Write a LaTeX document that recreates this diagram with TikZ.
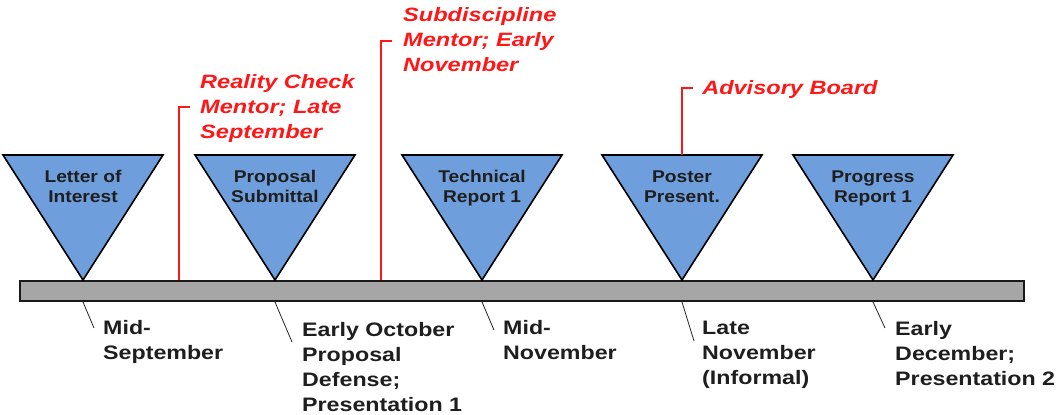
\documentclass[tikz,border=0pt]{standalone}
\usepackage{fontspec}
\setmainfont{Liberation Sans}
\definecolor{triblue}{RGB}{110,158,219}
\definecolor{bargray}{RGB}{166,166,166}
\definecolor{mred}{RGB}{255,22,22}
\definecolor{dtext}{RGB}{30,30,30}
\begin{document}
\begin{tikzpicture}[x=1pt,y=-1pt,
  tri/.style={draw=black,line width=1.6pt,fill=triblue,line join=miter},
  tritext/.style={inner sep=0,align=center,anchor=base,xscale=1.13,transform shape,
    font=\fontsize{17}{20}\selectfont\bfseries,text=dtext},
  datetext/.style={inner sep=0,align=left,anchor=base west,xscale=1.19,transform shape,
    font=\fontsize{19.5}{25}\selectfont\bfseries,text=dtext},
  redtext/.style={inner sep=0,align=left,anchor=base west,xscale=1.22,transform shape,
    font=\fontsize{19.3}{25}\selectfont\bfseries\itshape,text=mred},
  redline/.style={draw=mred,line width=1.6pt},
  leader/.style={draw=black!85,line width=0.8pt}]
\useasboundingbox (0,0) rectangle (1058,415);
% bar
\node[draw=black!90,line width=2pt,fill=bargray,minimum width=1004pt,minimum height=20pt,inner sep=0,anchor=north west] (bar) at (19,280) {};
% red connectors behind triangles
\coordinate (r1top) at (179,107);
\coordinate (r1end) at (190,107);
\coordinate (r2top) at (381,41);
\coordinate (r2end) at (392,41);
\coordinate (r3top) at (682,88);
\coordinate (r3end) at (693,88);
\draw[redline] (bar.north -| r1top) -- (r1top) -- (r1end);
\draw[redline] (bar.north -| r2top) -- (r2top) -- (r2end);
% triangles
\foreach \cx/\nm in {83/a,275/b,482/c,682/d,873/e}{
  \draw[tri] (\cx-80,155) -- (\cx+80,155) -- (\cx,280) -- cycle;
  \coordinate (apex\nm) at (\cx,280);
  \coordinate (top\nm) at (\cx,155);
}
\draw[redline] (topd) -- (r3top) -- (r3end);
% triangle labels (base anchor = last line baseline)
\node[tritext] (ta) at (83,202) {Letter of\\Interest};
\node[tritext] (tb) at (275,202) {Proposal\\Submittal};
\node[tritext] (tc) at (482,202) {Technical\\Report 1};
\node[tritext] (td) at (682,202) {Poster\\Present.};
\node[tritext] (te) at (873,202) {Progress\\Report 1};
% red labels
\node[redtext] (rl1) at (200,138) {Reality Check\\Mentor; Late\\September};
\node[redtext] (rl2) at (403,71) {Subdiscipline\\Mentor; Early\\November};
\node[redtext] (rl3) at (702,94) {Advisory Board};
% date labels with leaders
\coordinate (la) at (94,328);
\coordinate (lb) at (292,342);
\coordinate (lc) at (494,330);
\coordinate (ld) at (694,341);
\coordinate (le) at (885,328);
\draw[leader] (bar.south -| apexa) -- (la);
\draw[leader] (bar.south -| apexb) -- (lb);
\draw[leader] (bar.south -| apexc) -- (lc);
\draw[leader] (bar.south -| apexd) -- (ld);
\draw[leader] (bar.south -| apexe) -- (le);
\node[datetext] (da) at (103,359) {Mid-\\September};
\node[datetext] (db) at (302,411) {Early October\\Proposal\\Defense;\\Presentation 1};
\node[datetext] (dc) at (503,359) {Mid-\\November};
\node[datetext] (dd) at (702,384) {Late\\November\\(Informal)};
\node[datetext] (de) at (895,385) {Early\\December;\\Presentation 2};
\end{tikzpicture}
\end{document}
